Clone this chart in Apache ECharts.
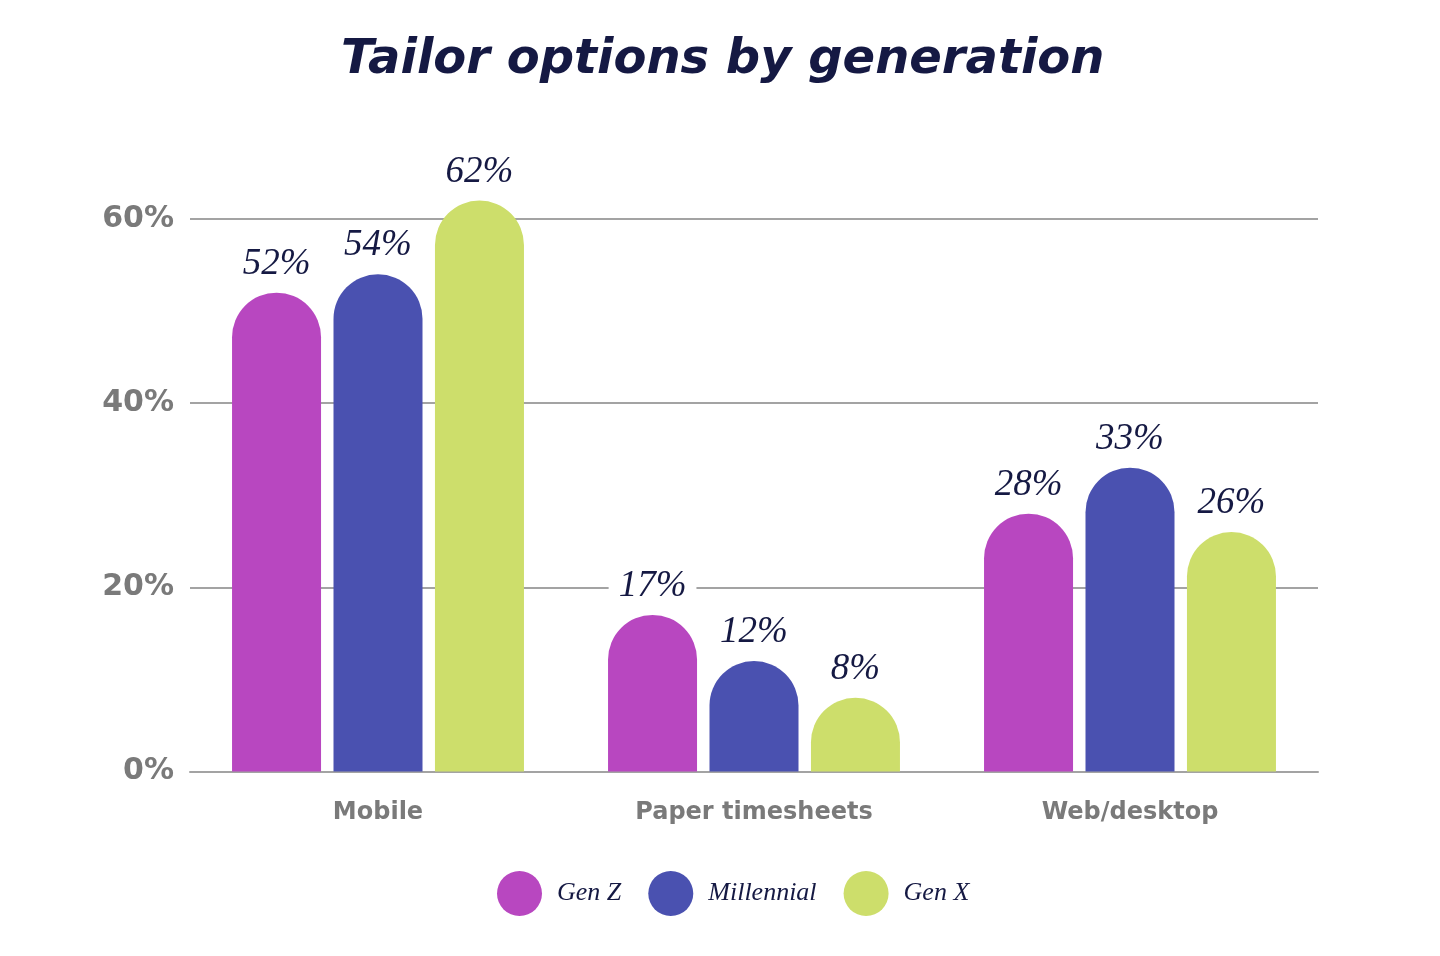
<!DOCTYPE html>
<html>
<head>
<meta charset="utf-8">
<script src="https://cdn.jsdelivr.net/npm/echarts@6/dist/echarts.min.js"></script>
<style>
html,body{margin:0;padding:0;background:#fff;}
#chart{width:1440px;height:956px;}
</style>
</head>
<body>
<div id="chart"></div>
<script>
const categories = ['Mobile', 'Paper timesheets', 'Web/desktop'];
const seriesNames = ['Gen Z', 'Millennial', 'Gen X'];
const genZ = [52, 17, 28];
const millennial = [54, 12, 33];
const genX = [62, 8, 26];
const yTicks = [0, 20, 40, 60];
const colors = ['#B847C0', '#4A51B0', '#CDDE6B'];

const chart = echarts.init(document.getElementById('chart'));
const navy = '#151943';
const labelStyle = {
  show: true,
  position: 'top',
  distance: 10,
  formatter: '{c}%',
  fontFamily: '"Liberation Serif", "DejaVu Serif", serif',
  fontStyle: 'italic',
  fontSize: 37,
  color: navy,
  backgroundColor: '#fff',
  padding: [0, 10, 0, 10]
};
function mk(name, data, color) {
  return {
    name: name,
    type: 'bar',
    data: data,
    barWidth: 89,
    barGap: '14%',
    clip: false,
    itemStyle: { color: color, borderRadius: [44.5, 44.5, 0, 0] },
    label: labelStyle,
    emphasis: { disabled: true }
  };
}
chart.setOption({
  animation: false,
  color: colors,
  title: {
    text: 'Tailor options by generation',
    left: 336,
    top: 32,
    textStyle: {
      fontFamily: '"DejaVu Sans", sans-serif',
      fontStyle: 'italic',
      fontWeight: 'bold',
      fontSize: 48,
      color: navy
    }
  },
  legend: {
    data: seriesNames,
    left: 492,
    top: 866,
    icon: 'circle',
    itemWidth: 45,
    itemHeight: 45,
    itemGap: 27,
    selectedMode: false,
    textStyle: {
      fontFamily: '"Liberation Serif", "DejaVu Serif", serif',
      fontStyle: 'italic',
      fontSize: 26,
      color: navy,
      padding: [0, 0, 0, 10]
    }
  },
  grid: { left: 190, right: 122, top: 219, bottom: 184.5 },
  xAxis: {
    type: 'category',
    data: categories,
    axisTick: { show: false },
    axisLine: { lineStyle: { color: '#a3a3a3', width: 2 } },
    axisLabel: {
      margin: 29,
      fontFamily: '"DejaVu Sans", sans-serif',
      fontWeight: 'bold',
      fontSize: 24,
      color: '#7a7a7a'
    }
  },
  yAxis: {
    type: 'value',
    min: 0,
    max: 60,
    interval: 20,
    axisLine: { show: false },
    axisTick: { show: false },
    splitLine: { lineStyle: { color: '#a3a3a3', width: 2 } },
    axisLabel: {
      margin: 16,
      fontFamily: '"DejaVu Sans", sans-serif',
      fontWeight: 'bold',
      fontSize: 30,
      color: '#7a7a7a',
      formatter: v => yTicks.includes(v) ? v + '%' : ''
    }
  },
  series: [
    mk(seriesNames[0], genZ, colors[0]),
    mk(seriesNames[1], millennial, colors[1]),
    mk(seriesNames[2], genX, colors[2])
  ]
});
</script>
</body>
</html>
